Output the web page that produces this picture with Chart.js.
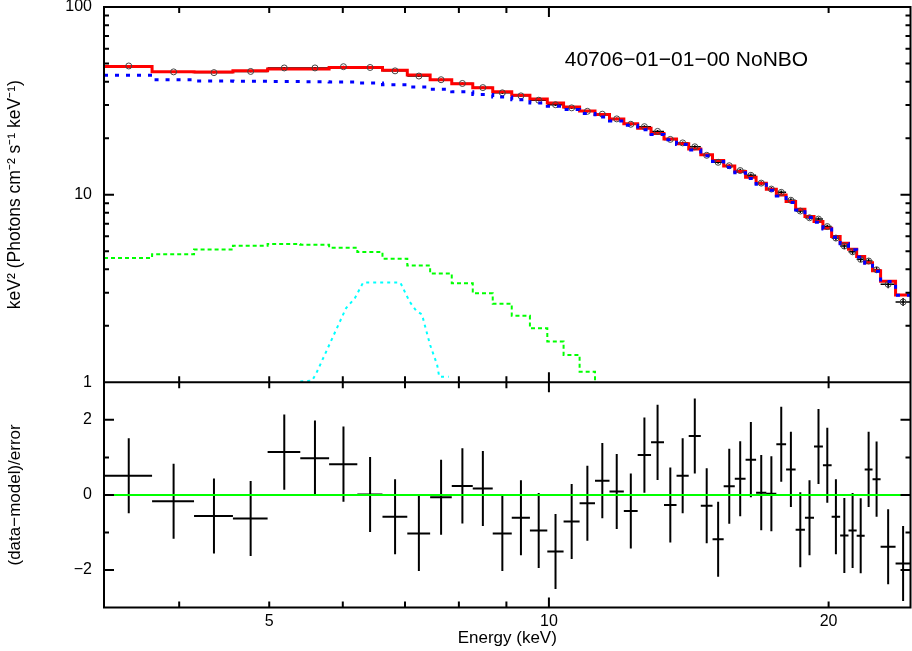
<!DOCTYPE html>
<html>
<head>
<meta charset="utf-8">
<title>40706-01-01-00 NoNBO unfolded spectrum</title>
<script src="https://cdn.jsdelivr.net/npm/chart.js@4.4.0/dist/chart.umd.min.js"></script>
<style>
  html, body { margin: 0; padding: 0; background: #fff; }
  #wrap { width: 912px; height: 651px; }
</style>
</head>
<body>
<div id="wrap"><canvas id="spectrum" width="912" height="651"></canvas></div>
<script>
// energy bins: centre and half width (keV)
const energy = [3.53, 3.945, 4.36, 4.775, 5.19, 5.60, 6.01, 6.42, 6.83, 7.245,
  7.655, 8.07, 8.49, 8.91, 9.33, 9.75, 10.165, 10.58, 11.00, 11.415,
  11.83, 12.25, 12.67, 13.09, 13.51, 13.93, 14.355, 14.785, 15.21, 15.635,
  16.065, 16.495, 16.925, 17.355, 17.785, 18.215, 18.645, 19.075, 19.505, 19.935,
  20.365, 20.795, 21.225, 21.655, 22.085, 22.525, 23.18, 24.055, 24.95];
const halfWidth = [0.21, 0.205, 0.21, 0.205, 0.21, 0.20, 0.21, 0.20, 0.21, 0.205,
  0.205, 0.21, 0.21, 0.21, 0.21, 0.21, 0.205, 0.21, 0.21, 0.205,
  0.21, 0.21, 0.21, 0.21, 0.21, 0.21, 0.215, 0.215, 0.21, 0.215,
  0.215, 0.215, 0.215, 0.215, 0.215, 0.215, 0.215, 0.215, 0.215, 0.215,
  0.215, 0.215, 0.215, 0.215, 0.215, 0.225, 0.43, 0.445, 0.85];

// keV^2 (photons cm^-2 s^-1 keV^-1)
const dataFlux = [48.50, 45.11, 44.70, 45.35, 47.34, 47.35, 48.07, 47.61, 45.68, 42.86,
  40.97, 39.13, 37.19, 34.89, 33.61, 31.87, 30.15, 29.01, 27.81, 26.84,
  25.34, 23.72, 23.03, 21.73, 19.70, 18.87, 17.99, 16.21, 14.88, 14.26,
  13.44, 12.68, 11.52, 10.71, 10.29, 9.34, 8.18, 7.53, 7.41, 6.76,
  5.87, 5.32, 4.96, 4.52, 4.43, 3.98, 3.33, 2.68, null];
const dataErr = [0.58, 0.54, 0.54, 0.55, 0.56, 0.56, 0.57, 0.57, 0.55, 0.52,
  0.57, 0.55, 0.52, 0.50, 0.47, 0.45, 0.43, 0.41, 0.39, 0.37,
  0.46, 0.43, 0.41, 0.38, 0.36, 0.34, 0.32, 0.29, 0.27, 0.26,
  0.32, 0.30, 0.28, 0.26, 0.24, 0.22, 0.20, 0.18, 0.17, 0.16,
  0.19, 0.18, 0.16, 0.15, 0.14, 0.13, 0.16, 0.13, null];
const modelFlux = [48.2, 45.2, 45.0, 45.7, 46.7, 46.8, 47.6, 47.6, 46.0, 43.4,
  41.0, 39.0, 37.1, 35.4, 33.9, 32.3, 30.8, 29.3, 27.9, 26.7,
  25.3, 23.9, 22.6, 21.2, 19.8, 18.7, 17.5, 16.3, 15.2, 14.2,
  13.3, 12.4, 11.5, 10.7, 9.97, 9.19, 8.37, 7.64, 7.19, 6.63,
  5.98, 5.51, 5.12, 4.68, 4.34, 3.93, 3.46, 2.92, null];
// blue dotted component
const comp1Flux = [43.3, 41.0, 40.3, 40.2, 40.1, 40.0, 39.8, 39.3, 38.5, 37.5,
  36.4, 35.3, 34.2, 33.1, 32.0, 30.8, 29.6, 28.4, 27.1, 25.9,
  24.7, 23.4, 22.2, 20.9, 19.6, 18.5, 17.3, 16.1, 15.0, 14.0,
  13.1, 12.2, 11.35, 10.55, 9.85, 9.08, 8.28, 7.56, 7.12, 6.57,
  5.93, 5.47, 5.08, 4.65, 4.31, 3.91, 3.44, 2.91, null];
// green dashed component (falls below 1 after ~11 keV)
const comp2Flux = [4.60, 4.82, 5.10, 5.35, 5.45, 5.40, 5.22, 4.95, 4.56, 4.19,
  3.80, 3.37, 2.98, 2.62, 2.26, 1.94, 1.65, 1.40, 1.14, 0.96,
  0.80, null, null, null, null, null, null, null, null, null,
  null, null, null, null, null, null, null, null, null, null,
  null, null, null, null, null, null, null, null, null];
// cyan iron line
const ironLineE = [5.40, 5.56, 5.62, 5.92, 6.05, 6.18, 6.31, 6.92, 7.08, 7.20, 7.30, 7.45, 7.58, 7.62, 7.80];
const ironLineFlux = [1.01, 1.02, 1.12, 1.97, 2.49, 2.80, 3.40, 3.40, 2.69, 2.40, 2.30, 1.58, 1.24, 1.07, 1.07];

// (data-model)/error, each with unit error
const residual = [0.51, -0.17, -0.56, -0.63, 1.14, 0.98, 0.82, 0.01, -0.58, -1.03,
  -0.06, 0.24, 0.17, -1.03, -0.61, -0.95, -1.51, -0.71, -0.22, 0.38,
  0.09, -0.43, 1.06, 1.40, -0.27, 0.51, 1.57, -0.29, -1.18, 0.23,
  0.43, 0.94, 0.06, 0.03, 1.35, 0.68, -0.93, -0.61, 1.29, 0.79,
  -0.58, -1.08, -0.95, -1.09, 0.68, 0.42, -1.38, -1.83, -2.0];
const residSigma = 1;

// axes
const xMin = 3.32, xMax = 24.5;
const xTickLabels = [5, 10, 20];
const xTicks = [4, 5, 6, 7, 8, 9, 10, 20];
const xMajorTicks = [10];
const fluxTickLabels = [1, 10, 100];
const fluxTicks = [2, 3, 4, 5, 6, 7, 8, 9, 10, 20, 30, 40, 50, 60, 70, 80, 90];
const fluxMajorTicks = [10];
const residTickLabels = [-2, 0, 2];
const residTicks = [-2, -1, 0, 1, 2];
const residMajorTicks = [-2, 0, 2];

const obsLabel = '40706\u221201\u221201\u221200 NoNBO';
const obsLabelE = 10.4, obsLabelFlux = 48.4;

const font = size => ({ family: '"Liberation Sans", Arial, Helvetica, sans-serif', size: size });

// step outline of a binned series
function histogram(values) {
  const pts = [];
  values.forEach((v, i) => {
    if (v == null) return;
    pts.push({ x: energy[i] - halfWidth[i], y: v }, { x: energy[i] + halfWidth[i], y: v });
  });
  return pts;
}

// "+" marks: bin width horizontally, +-error vertically
function errorCrosses(values, errs) {
  const pts = [];
  values.forEach((v, i) => {
    if (v == null) return;
    const e = energy[i];
    pts.push({ x: e - halfWidth[i], y: v }, { x: e + halfWidth[i], y: v }, { x: e, y: null });
    pts.push({ x: e, y: v - errs[i] }, { x: e, y: v + errs[i] }, { x: e, y: null });
  });
  return pts;
}

// keep each dataset inside its own panel
const panelClip = {
  id: 'panelClip',
  beforeDatasetDraw(chart, args) {
    const ds = chart.data.datasets[args.index];
    const ys = chart.scales[ds.yAxisID];
    const a = chart.chartArea;
    chart.ctx.save();
    chart.ctx.beginPath();
    chart.ctx.rect(a.left, ys.top, a.right - a.left, ys.bottom - ys.top);
    chart.ctx.clip();
  },
  afterDatasetDraw(chart) {
    chart.ctx.restore();
  }
};

// box round each panel with inward ticks on all sides
const frame = {
  id: 'frame',
  afterDraw(chart) {
    const { ctx, chartArea: a, scales } = chart;
    const seg = (x0, y0, x1, y1) => { ctx.moveTo(x0, y0); ctx.lineTo(x1, y1); };
    ctx.save();
    ctx.strokeStyle = '#000';
    ctx.lineWidth = 2;
    ctx.beginPath();
    [scales.y, scales.yRes].forEach(p => {
      ctx.rect(a.left, p.top, a.right - a.left, p.bottom - p.top);
      xTicks.forEach(v => {
        const px = scales.x.getPixelForValue(v);
        const len = xMajorTicks.includes(v) ? 10 : 6;
        seg(px, p.top, px, p.top + len);
        seg(px, p.bottom, px, p.bottom - len);
      });
    });
    const sideTicks = (scale, ticks, major) => ticks.forEach(v => {
      const py = scale.getPixelForValue(v);
      const len = major.includes(v) ? 10 : 5;
      seg(a.left, py, a.left + len, py);
      seg(a.right, py, a.right - len, py);
    });
    sideTicks(scales.y, fluxTicks, fluxMajorTicks);
    sideTicks(scales.yRes, residTicks, residMajorTicks);
    ctx.stroke();
    ctx.restore();
  }
};

const caption = {
  id: 'caption',
  afterDatasetsDraw(chart) {
    const { ctx, scales } = chart;
    ctx.save();
    ctx.font = '21px "Liberation Sans", Arial, sans-serif';
    ctx.fillStyle = '#000';
    ctx.textBaseline = 'alphabetic';
    ctx.fillText(obsLabel, scales.x.getPixelForValue(obsLabelE), scales.y.getPixelForValue(obsLabelFlux));
    ctx.restore();
  }
};

// fixed axis boxes, no extra room reserved for label overhang
const fixWidth = s => { s.width = 104; s.paddingTop = 0; s.paddingBottom = 0; };
const fixHeight = s => { s.height = 43.5; s.paddingLeft = 0; s.paddingRight = 0; };

const lineDefaults = { pointRadius: 0, fill: false, tension: 0, spanGaps: false };
const minus = v => (v < 0 ? '\u2212' + Math.abs(v) : String(v));

new Chart(document.getElementById('spectrum'), {
  type: 'line',
  data: {
    datasets: [
      { ...lineDefaults, label: 'zero', yAxisID: 'yRes', order: -1,
        data: [{ x: xMin, y: 0 }, { x: xMax, y: 0 }], borderColor: '#00ff00', borderWidth: 2 },
      { ...lineDefaults, label: 'comp1', yAxisID: 'y', order: 0,
        data: histogram(comp1Flux), borderColor: '#0000ff', borderWidth: 3, borderDash: [4, 7] },
      { ...lineDefaults, label: 'comp2', yAxisID: 'y', order: 1,
        data: histogram(comp2Flux), borderColor: '#00ff00', borderWidth: 2, borderDash: [4, 3] },
      { ...lineDefaults, label: 'iron line', yAxisID: 'y', order: 2,
        data: ironLineE.map((e, i) => ({ x: e, y: ironLineFlux[i] })),
        borderColor: '#00ffff', borderWidth: 2, borderDash: [3, 4] },
      { label: 'data', yAxisID: 'y', order: 3, showLine: false,
        data: energy.map((e, i) => ({ x: e, y: dataFlux[i] })),
        pointRadius: 3, pointStyle: 'circle', pointBorderColor: '#444',
        pointBackgroundColor: 'rgba(0,0,0,0)', pointBorderWidth: 1 },
      { ...lineDefaults, label: 'model', yAxisID: 'y', order: 4,
        data: histogram(modelFlux), borderColor: '#ff0000', borderWidth: 3 },
      { ...lineDefaults, label: 'data errors', yAxisID: 'y', order: 5,
        data: errorCrosses(dataFlux, dataErr), borderColor: '#000', borderWidth: 1.5 },
      { ...lineDefaults, label: 'residuals', yAxisID: 'yRes', order: 6,
        data: errorCrosses(residual, residual.map(() => residSigma)), borderColor: '#000', borderWidth: 2 }
    ]
  },
  options: {
    responsive: false,
    animation: false,
    layout: { autoPadding: false, padding: { top: 7, right: 1.5, bottom: 0, left: 0 } },
    plugins: { legend: { display: false }, tooltip: { enabled: false } },
    scales: {
      x: {
        type: 'logarithmic', min: xMin, max: xMax, position: 'bottom',
        grid: { display: false, drawTicks: false }, border: { display: false },
        afterBuildTicks: s => { s.ticks = xTickLabels.map(v => ({ value: v })); },
        afterFit: fixHeight,
        ticks: { autoSkip: false, maxRotation: 0, padding: 4, color: '#000', font: font(16), callback: v => String(v) },
        title: { display: true, text: 'Energy (keV)', color: '#000', font: font(17), padding: { top: 0, bottom: 2 } }
      },
      // left axes in one stack: the one defined last is placed on top
      yRes: {
        type: 'linear', min: -3, max: 3, position: 'left', stack: 'panels', stackWeight: 3,
        grid: { display: false, drawTicks: false }, border: { display: false },
        afterBuildTicks: s => { s.ticks = residTickLabels.map(v => ({ value: v })); },
        afterFit: fixWidth,
        ticks: { autoSkip: false, padding: 12, color: '#000', font: font(16), callback: v => minus(v) },
        title: { display: true, text: '(data\u2212model)/error',
          color: '#000', font: font(17), padding: { top: 5, bottom: 0 } }
      },
      y: {
        type: 'logarithmic', min: 1, max: 100, position: 'left', stack: 'panels', stackWeight: 5,
        grid: { display: false, drawTicks: false }, border: { display: false },
        afterBuildTicks: s => { s.ticks = fluxTickLabels.map(v => ({ value: v })); },
        afterFit: fixWidth,
        ticks: { autoSkip: false, padding: 12, color: '#000', font: font(16), callback: v => String(v) },
        title: { display: true, text: 'keV\u00b2 (Photons cm\u207b\u00b2 s\u207b\u00b9 keV\u207b\u00b9)',
          color: '#000', font: font(17.5), padding: { top: 5, bottom: 0 } }
      }
    }
  },
  plugins: [panelClip, frame, caption]
});
</script>
</body>
</html>
